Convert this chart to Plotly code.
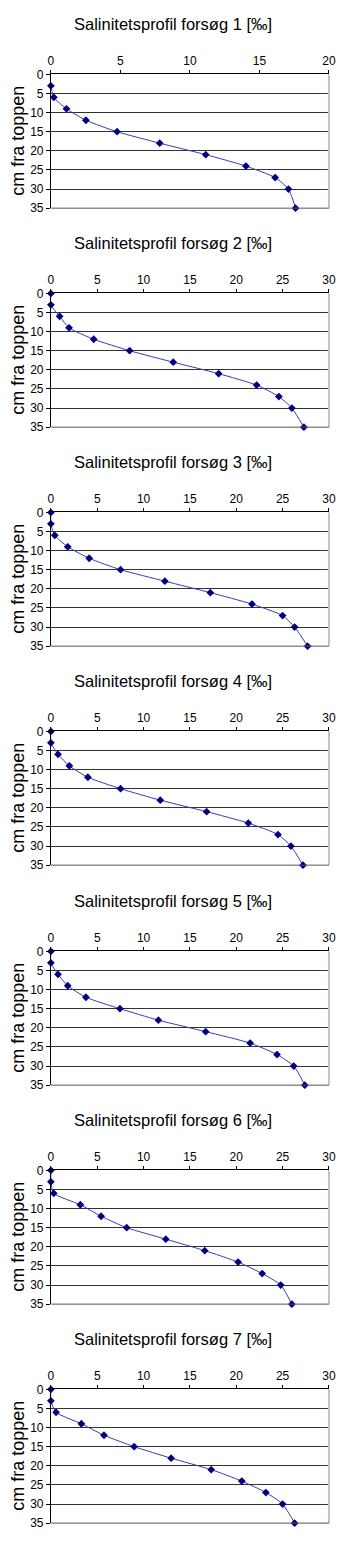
import plotly.graph_objects as go

# Depth below the surface (cm)
depth = [0, 3, 6, 9, 12, 15, 18, 21, 24, 27, 30, 35]

# Salinity (per mille) per run; run 1 has no reading at 0 cm
run1 = [None, 0.0, 0.21, 1.12, 2.52, 4.76, 7.83, 11.14, 14.03, 16.13, 17.09, 17.6]
run2 = [0.0, 0.0, 0.94, 1.96, 4.62, 8.5, 13.2, 18.1, 22.2, 24.6, 26.0, 27.3]
run3 = [0.0, 0.0, 0.42, 1.82, 4.13, 7.52, 12.3, 17.2, 21.7, 25.0, 26.3, 27.7]
run4 = [0.0, 0.0, 0.77, 1.99, 3.99, 7.52, 11.8, 16.8, 21.3, 24.5, 25.9, 27.2]
run5 = [0.0, 0.0, 0.77, 1.82, 3.78, 7.45, 11.6, 16.7, 21.5, 24.4, 26.2, 27.4]
run6 = [0.0, 0.0, 0.31, 3.18, 5.42, 8.18, 12.4, 16.6, 20.2, 22.8, 24.8, 26.0]
run7 = [0.0, 0.0, 0.56, 3.29, 5.73, 8.99, 12.97, 17.3, 20.6, 23.2, 25.0, 26.3]

runs = [run1, run2, run3, run4, run5, run6, run7]
x_max = [20, 30, 30, 30, 30, 30, 30]
titles = [f"Salinitetsprofil forsøg {i} [‰]" for i in range(1, 8)]

W, H = 350, 1545
plot_tops = [68, 289, 510, 731, 953, 1174, 1395]
plot_h = 135
x0_px, x1_px = 49.3, 335.5

font_family = "Liberation Sans, Arial, sans-serif"

fig = go.Figure()

for i, (vals, xm, title) in enumerate(zip(runs, x_max, titles)):
    n = i + 1
    xa = "x" if n == 1 else f"x{n}"
    ya = "y" if n == 1 else f"y{n}"
    pts = [(v, d) for v, d in zip(vals, depth) if v is not None]
    fig.add_trace(go.Scatter(
        x=[p[0] for p in pts], y=[p[1] for p in pts],
        mode="lines+markers",
        line=dict(color="#3a3ab8", width=1, shape="spline", smoothing=0.6),
        marker=dict(symbol="diamond", size=6, color="#000080"),
        xaxis=xa, yaxis=ya, showlegend=False, cliponaxis=False,
    ))

    top = plot_tops[i]
    bot = top + plot_h
    yd = [1 - bot / H, 1 - top / H]
    xd = [x0_px / W, x1_px / W]

    fig.layout[f"xaxis{'' if n == 1 else n}"] = dict(
        domain=xd, anchor=ya, side="top", range=[0, xm],
        dtick=5, tick0=0, showgrid=False, zeroline=False,
        showline=True, linecolor="#000000", linewidth=1,
        ticks="outside", ticklen=3, tickcolor="#000000",
        ticklabelstandoff=1,
        tickfont=dict(family=font_family, size=12, color="#000000"),
        fixedrange=True,
    )
    fig.layout[f"yaxis{'' if n == 1 else n}"] = dict(
        domain=yd, anchor=xa, range=[35, 0], dtick=5, tick0=0,
        showgrid=True, gridcolor="#333333", gridwidth=1, zeroline=False,
        showline=True, linecolor="#000000", linewidth=1,
        ticks="outside", ticklen=4, tickcolor="#000000",
        tickfont=dict(family=font_family, size=12, color="#000000"),
        fixedrange=True,
    )

    # light grey frame on the right edge of the plot area
    fig.add_shape(type="line", xref=f"{xa} domain", yref=f"{ya} domain",
                  x0=1, x1=1, y0=0, y1=1,
                  line=dict(color="#c0c0c0", width=2))
    # bottom edge line at 35 cm
    fig.add_shape(type="line", xref=f"{xa} domain", yref=f"{ya} domain",
                  x0=0, x1=1, y0=0, y1=0,
                  line=dict(color="#555555", width=1))

    fig.add_annotation(text=title, xref="paper", yref="paper",
                       x=175 / W, y=1 - (top - 51) / H,
                       showarrow=False, xanchor="center", yanchor="middle",
                       font=dict(family=font_family, size=16.5, color="#000000"))
    fig.add_annotation(text="cm fra toppen", xref="paper", yref="paper",
                       x=16 / W, y=1 - (top + plot_h / 2) / H,
                       showarrow=False, textangle=-90,
                       xanchor="center", yanchor="middle",
                       font=dict(family=font_family, size=18, color="#000000"))

fig.update_layout(
    width=W, height=H,
    margin=dict(l=0, r=0, t=0, b=0),
    paper_bgcolor="#ffffff", plot_bgcolor="#ffffff",
    showlegend=False,
)

fig.write_html("out.html", config={"displayModeBar": False})
